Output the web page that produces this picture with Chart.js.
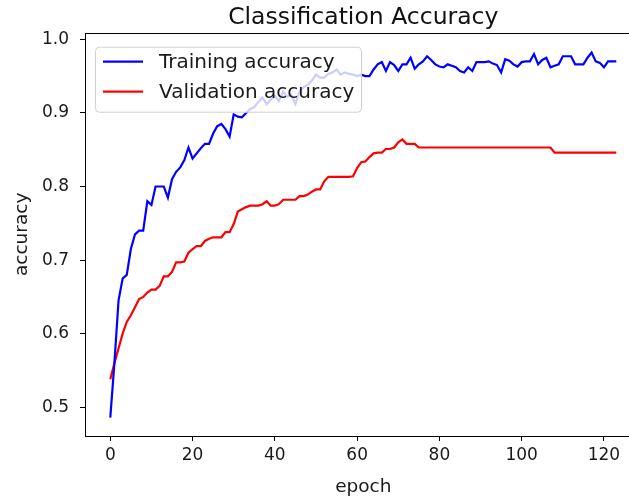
<!DOCTYPE html>
<html>
<head>
<meta charset="utf-8">
<script src="https://cdn.jsdelivr.net/npm/chart.js@4.4.0/dist/chart.umd.min.js"></script>
<style>
  html, body { margin: 0; padding: 0; background: #fff; overflow: hidden; }
  #wrap { width: 629px; height: 499px; overflow: hidden; }
  canvas { display: block; }
</style>
</head>
<body>
<div id="wrap"><canvas id="acc-chart" width="650" height="499"></canvas></div>
<script>
  // training accuracy per epoch (0..123)
  const trainAcc = [
    0.486, 0.560, 0.645, 0.675, 0.680, 0.715, 0.735, 0.740, 0.740, 0.780,
    0.775, 0.800, 0.800, 0.800, 0.785, 0.810, 0.820, 0.826, 0.836, 0.853,
    0.838, 0.845, 0.852, 0.858, 0.858, 0.872, 0.882, 0.885, 0.878, 0.868,
    0.898, 0.895, 0.894, 0.900, 0.905, 0.908, 0.915, 0.921, 0.912, 0.918,
    0.923, 0.916, 0.929, 0.922, 0.925, 0.912, 0.929, 0.935, 0.938, 0.944,
    0.952, 0.948, 0.948, 0.953, 0.955, 0.959, 0.952, 0.955, 0.953, 0.952,
    0.950, 0.952, 0.950, 0.950, 0.959, 0.966, 0.969, 0.957, 0.969, 0.965,
    0.957, 0.966, 0.966, 0.975, 0.960, 0.966, 0.970, 0.977, 0.972, 0.966,
    0.963, 0.962, 0.966, 0.964, 0.962, 0.957, 0.955, 0.962, 0.957, 0.969,
    0.969, 0.969, 0.970, 0.967, 0.965, 0.955, 0.973, 0.971, 0.966, 0.963,
    0.969, 0.970, 0.970, 0.980, 0.966, 0.972, 0.975, 0.962, 0.964, 0.966,
    0.977, 0.977, 0.977, 0.966, 0.966, 0.966, 0.975, 0.982, 0.970, 0.968,
    0.962, 0.970, 0.970, 0.970
  ];

  // validation accuracy per epoch (0..123)
  const valAcc = [
    0.538, 0.560, 0.580, 0.600, 0.616, 0.625, 0.636, 0.647, 0.650, 0.656,
    0.660, 0.660, 0.665, 0.678, 0.678, 0.684, 0.697, 0.697, 0.698, 0.710,
    0.715, 0.719, 0.719, 0.726, 0.729, 0.731, 0.731, 0.731, 0.738, 0.738,
    0.749, 0.766, 0.769, 0.772, 0.774, 0.774, 0.774, 0.776, 0.780, 0.774,
    0.774, 0.776, 0.782, 0.782, 0.782, 0.782, 0.787, 0.787, 0.789, 0.793,
    0.796, 0.796, 0.807, 0.813, 0.813, 0.813, 0.813, 0.813, 0.813, 0.814,
    0.825, 0.833, 0.834, 0.840, 0.845, 0.846, 0.846, 0.851, 0.851, 0.853,
    0.860, 0.864, 0.858, 0.858, 0.858, 0.853, 0.853, 0.853, 0.853, 0.853,
    0.853, 0.853, 0.853, 0.853, 0.853, 0.853, 0.853, 0.853, 0.853, 0.853,
    0.853, 0.853, 0.853, 0.853, 0.853, 0.853, 0.853, 0.853, 0.853, 0.853,
    0.853, 0.853, 0.853, 0.853, 0.853, 0.853, 0.853, 0.853, 0.846, 0.846,
    0.846, 0.846, 0.846, 0.846, 0.846, 0.846, 0.846, 0.846, 0.846, 0.846,
    0.846, 0.846, 0.846, 0.846
  ];

  const xTicks = [0, 20, 40, 60, 80, 100, 120];
  const yTicks = [0.5, 0.6, 0.7, 0.8, 0.9, 1.0];
  const seriesNames = ['Training accuracy', 'Validation accuracy'];

  const FONT = "'DejaVu Sans', sans-serif";

  function toPoints(arr) {
    return arr.map((v, i) => ({ x: i, y: v }));
  }

  // matplotlib-like full box around the axes
  const frameBox = {
    id: 'frameBox',
    afterDatasetsDraw(chart) {
      const a = chart.chartArea;
      const ctx = chart.ctx;
      ctx.save();
      ctx.strokeStyle = '#000';
      ctx.lineWidth = 1;
      ctx.strokeRect(Math.round(a.left) + 0.5, Math.round(a.top) + 0.5,
                     Math.round(a.right - a.left), Math.round(a.bottom - a.top));
      ctx.restore();
    }
  };

  // legend inside the axes, upper left, semi-transparent box
  const innerLegend = {
    id: 'innerLegend',
    afterDraw(chart) {
      const a = chart.chartArea;
      const ctx = chart.ctx;
      const x0 = a.left + 10, y0 = a.top + 14;
      const w = 266, h = 65, r = 4;
      ctx.save();
      ctx.beginPath();
      ctx.roundRect(x0 + 0.5, y0 + 0.5, w, h, r);
      ctx.fillStyle = 'rgba(255,255,255,0.8)';
      ctx.fill();
      ctx.strokeStyle = '#d0d0d0';
      ctx.lineWidth = 1;
      ctx.stroke();
      ctx.font = '20px ' + FONT;
      ctx.textBaseline = 'middle';
      ctx.textAlign = 'left';
      chart.data.datasets.forEach((ds, i) => {
        const cy = y0 + 15 + i * 30;
        ctx.beginPath();
        ctx.moveTo(x0 + 8, cy);
        ctx.lineTo(x0 + 48, cy);
        ctx.strokeStyle = ds.borderColor;
        ctx.lineWidth = 2.2;
        ctx.stroke();
        ctx.fillStyle = '#1a1a1a';
        ctx.fillText(ds.label, x0 + 64, cy + 1);
      });
      ctx.restore();
    }
  };

  const ctx = document.getElementById('acc-chart').getContext('2d');
  new Chart(ctx, {
    type: 'line',
    data: {
      datasets: [
        {
          label: seriesNames[0],
          data: toPoints(trainAcc),
          borderColor: '#0000ff',
          borderWidth: 2.2,
          pointRadius: 0,
          tension: 0,
          fill: false
        },
        {
          label: seriesNames[1],
          data: toPoints(valAcc),
          borderColor: '#ff0000',
          borderWidth: 2.2,
          pointRadius: 0,
          tension: 0,
          fill: false
        }
      ]
    },
    options: {
      responsive: false,
      animation: false,
      devicePixelRatio: 1,
      layout: { padding: { left: 0, right: 8.4, top: 0, bottom: 0 } },
      plugins: {
        legend: { display: false },
        tooltip: { enabled: false },
        title: {
          display: true,
          fullSize: false,
          text: 'Classification Accuracy',
          color: '#111',
          font: { family: FONT, size: 23.5, weight: 'normal' },
          padding: { top: 3.5, bottom: 1 }
        }
      },
      scales: {
        x: {
          type: 'linear',
          min: -6.15,
          max: 129.15,
          afterBuildTicks: (scale) => { scale.ticks = xTicks.map(v => ({ value: v })); },
          afterFit: (scale) => { scale.height = 63; },
          border: { display: false },
          grid: { display: true, drawOnChartArea: false, drawTicks: true, tickLength: 5, color: '#000', tickColor: '#000' },
          ticks: {
            color: '#1a1a1a',
            padding: 4,
            maxRotation: 0,
            font: { family: FONT, size: 17 },
            callback: (v) => String(v)
          },
          title: {
            display: true,
            text: 'epoch',
            color: '#1a1a1a',
            font: { family: FONT, size: 18.5 },
            padding: { top: 0, bottom: 1 }
          }
        },
        y: {
          type: 'linear',
          min: 0.461,
          max: 1.009,
          afterBuildTicks: (scale) => { scale.ticks = yTicks.map(v => ({ value: v })); },
          afterFit: (scale) => { scale.width = 85; },
          border: { display: false },
          grid: { display: true, drawOnChartArea: false, drawTicks: true, tickLength: 5, color: '#000', tickColor: '#000' },
          ticks: {
            color: '#1a1a1a',
            padding: 11,
            font: { family: FONT, size: 17 },
            callback: (v) => v.toFixed(1)
          },
          title: {
            display: true,
            text: 'accuracy',
            color: '#1a1a1a',
            font: { family: FONT, size: 18.5 },
            padding: { top: 11, bottom: 0 }
          }
        }
      }
    },
    plugins: [frameBox, innerLegend]
  });
</script>
</body>
</html>
